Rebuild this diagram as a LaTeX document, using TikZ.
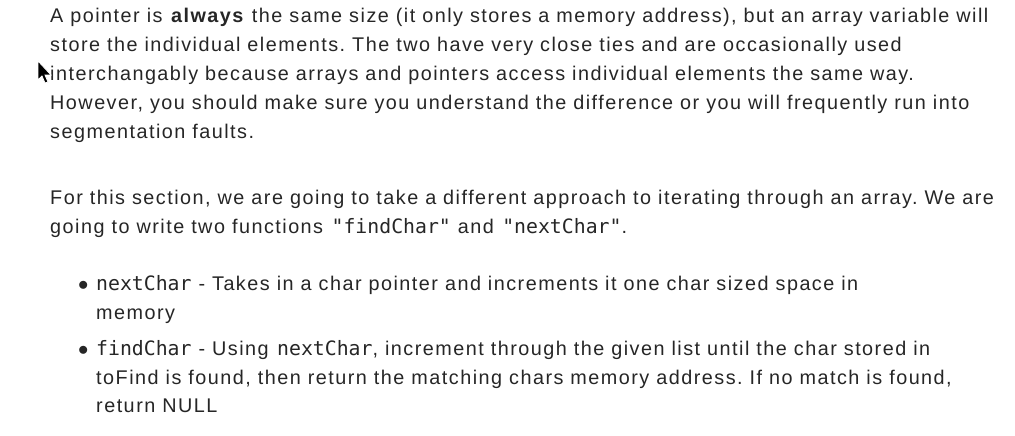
\documentclass[tikz,border=0pt]{standalone}
\usepackage{fontspec}
\setmainfont[LetterSpace=7.5]{Liberation Sans}
\setmonofont{DejaVu Sans Mono}
\frenchspacing
\begin{document}
\begin{tikzpicture}[x=1pt,y=-1pt,
  tl/.style={anchor=base west,inner sep=0pt,font=\fontsize{19.8}{22}\selectfont\frenchspacing,text=black!85}]
\useasboundingbox[fill=white] (0,0) rectangle (1015,436);
\node[tl] (l1) at (50,23) {A pointer is \textbf{always} the same size (it only stores a memory address), but an array variable will};
\node[tl] (l2) at (50,52) {store the individual elements. The two have very close ties and are occasionally used};
\node[tl] (l3) at (50,81) {interchangably because arrays and pointers access individual elements the same way.};
\node[tl] (l4) at (50,110) {However, you should make sure you understand the difference or you will frequently run into};
\node[tl] (l5) at (50,138) {segmentation faults.};
\node[tl] (p1) at (50,204) {For this section, we are going to take a different approach to iterating through an array. We are};
\node[tl] (p2) at (50,233) {going to write two functions \texttt{"findChar"} and \texttt{"nextChar"}.};
\node[tl] (b1) at (78,290) {$\bullet$};
\node[tl] (b1a) at (96,290) {\texttt{nextChar} - Takes in a char pointer and increments it one char sized space in};
\node[tl] (b1b) at (96,319) {memory};
\node[tl] (b2) at (78,355) {$\bullet$};
\node[tl] (b2a) at (96,355) {\texttt{findChar} - Using \texttt{nextChar}, increment through the given list until the char stored in};
\node[tl] (b2b) at (96,384) {toFind is found, then return the matching chars memory address. If no match is found,};
\node[tl] (b2c) at (96,412) {return NULL};
\draw[fill=black,draw=white,line width=0.8pt] (38,61) -- (38,80) -- (42,76) -- (45,83) -- (48,82) -- (45,75) -- (51,75) -- cycle;
\end{tikzpicture}
\end{document}
